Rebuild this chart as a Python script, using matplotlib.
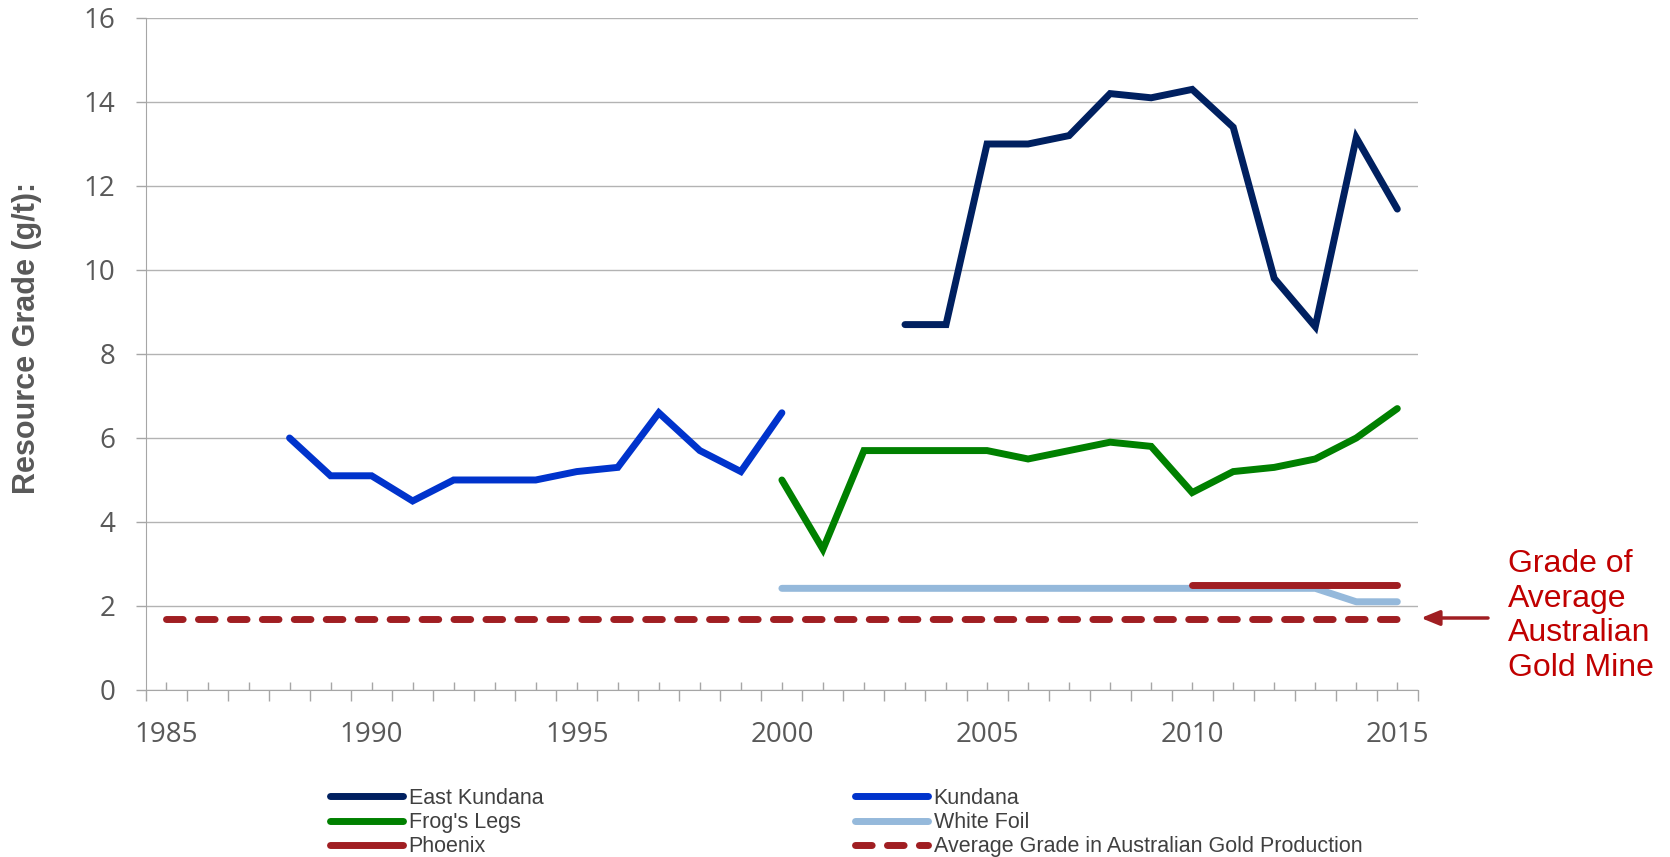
import numpy as np
import matplotlib
matplotlib.use("Agg")
import matplotlib.pyplot as plt

# ============================================================
# DATOS
# ============================================================
anios_ek = [2003, 2004, 2005, 2006, 2007, 2008, 2009, 2010, 2011, 2012, 2013, 2014, 2015]
east_kundana = [8.7, 8.7, 13.0, 13.0, 13.2, 14.2, 14.1, 14.3, 13.4, 9.8, 8.65, 13.15, 11.45]

anios_k = list(range(1988, 2001))
kundana = [6.0, 5.1, 5.1, 4.5, 5.0, 5.0, 5.0, 5.2, 5.3, 6.6, 5.7, 5.2, 6.6]

anios_fl = list(range(2000, 2016))
frogs_legs = [5.0, 3.35, 5.7, 5.7, 5.7, 5.7, 5.5, 5.7, 5.9, 5.8, 4.7, 5.2, 5.3, 5.5, 6.0, 6.7]

anios_wf = list(range(2000, 2016))
white_foil = [2.42] * 14 + [2.1, 2.1]

anios_ph = list(range(2010, 2016))
phoenix = [2.5] * 6

anios_avg = list(range(1985, 2016))
promedio = [1.7] * 31

etiquetas_x = [str(a) if a % 5 == 0 else "" for a in range(1985, 2016)]
ticks_y = [0, 2, 4, 6, 8, 10, 12, 14, 16]

# ============================================================
# ESTILO
# ============================================================
GRIS = "#595959"
GRIS_LINEA = "#A6A6A6"
ROJO_TXT = "#C00000"
ROJO = "#A01E22"
LW = 5

fig = plt.figure(figsize=(16.7, 8.57), dpi=100)
ax = fig.add_axes([0.0874, 0.1949, 0.849 - 0.0874, 0.979 - 0.1949])

ax.plot(anios_ek, east_kundana, color="#002060", lw=LW, solid_capstyle="round",
        solid_joinstyle="miter", label="East Kundana")
ax.plot(anios_k, kundana, color="#0033CC", lw=LW, solid_capstyle="round",
        solid_joinstyle="miter", label="Kundana")
ax.plot(anios_fl, frogs_legs, color="#008000", lw=LW, solid_capstyle="round",
        solid_joinstyle="miter", label="Frog's Legs")
ax.plot(anios_wf, white_foil, color="#95B9DB", lw=LW, solid_capstyle="round",
        label="White Foil")
ax.plot(anios_ph, phoenix, color=ROJO, lw=LW, solid_capstyle="round", label="Phoenix")
ax.plot(anios_avg, promedio, color=ROJO, lw=LW, dash_capstyle="round",
        dashes=(2.4, 2.2), label="Average Grade in Australian Gold Production")

ax.set_xlim(1984.5, 2015.5)
ax.set_ylim(0, 16)

ax.set_xticks(range(1985, 2016))
ax.set_xticklabels(etiquetas_x)
ax.set_xticks(np.arange(1984.5, 2016, 1), minor=True)
ax.tick_params(axis="x", which="major", direction="in", length=6, width=1,
               color=GRIS_LINEA, pad=22, labelsize=20, labelcolor=GRIS)
ax.tick_params(axis="x", which="minor", direction="out", length=8, width=1,
               color=GRIS_LINEA)
ax.set_yticks(ticks_y)
ax.tick_params(axis="y", direction="out", length=7, width=1, color=GRIS_LINEA,
               pad=15, labelsize=20, labelcolor=GRIS)
for lbl in ax.get_xticklabels() + ax.get_yticklabels():
    lbl.set_family("Open Sans")

ax.grid(axis="y", color="#B3B3B3", lw=1)
ax.set_axisbelow(True)
for s in ["top", "right"]:
    ax.spines[s].set_visible(False)
ax.spines["left"].set_color(GRIS_LINEA)
ax.spines["bottom"].set_color(GRIS_LINEA)

fig.text(0.016, 0.606, "Resource Grade (g/t):", rotation=90, ha="center", va="center",
         fontsize=22, fontweight="bold", color=GRIS, family="Liberation Sans")

# anotacion
fig.text(1508 / 1670, 1 - 549 / 857, "Grade of\nAverage\nAustralian\nGold Mine",
         ha="left", va="top", fontsize=23, color=ROJO_TXT, family="Liberation Sans",
         linespacing=1.2)
ax.annotate("", xy=(1421 / 1670, 1 - 618 / 857), xycoords="figure fraction",
            xytext=(1488 / 1670, 1 - 618 / 857), textcoords="figure fraction",
            arrowprops=dict(arrowstyle="-|>,head_length=1.1,head_width=0.45",
                            color=ROJO, lw=2.5, shrinkA=0, shrinkB=0))

# ============================================================
# LEYENDA
# ============================================================
handles, labels = ax.get_legend_handles_labels()
orden1 = [0, 2, 4]
orden2 = [1, 3, 5]
opciones = dict(loc="upper left", frameon=False, handlelength=3.4,
                handletextpad=0.25, labelspacing=0.15, borderpad=0, borderaxespad=0,
                labelcolor="#404040", prop={"family": "Liberation Sans", "size": 15.5})
leg1 = fig.legend([handles[i] for i in orden1], [labels[i] for i in orden1],
                  bbox_to_anchor=(330 / 1670, 1 - 788 / 857), **opciones)
leg2 = fig.legend([handles[i] for i in orden2], [labels[i] for i in orden2],
                  bbox_to_anchor=(855 / 1670, 1 - 788 / 857), **opciones)

fig.savefig("out.png", dpi=100)
